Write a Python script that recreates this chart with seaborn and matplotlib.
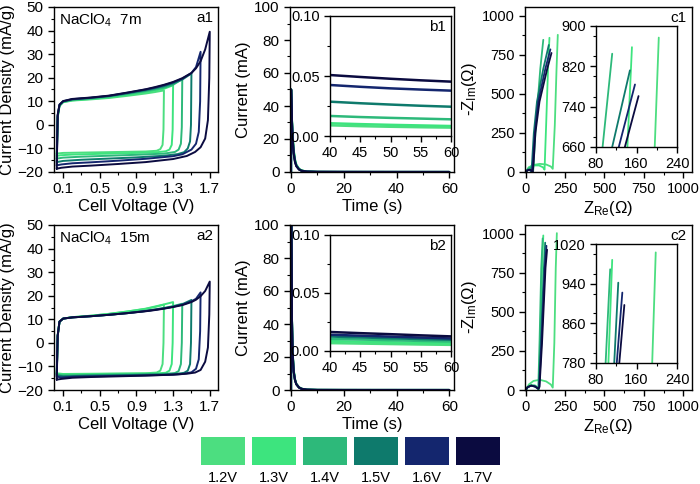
import matplotlib
matplotlib.use("Agg")
import numpy as np
import pandas as pd
import matplotlib.pyplot as plt
from matplotlib.ticker import MultipleLocator, FixedLocator, FormatStrFormatter
import seaborn as sns

# ------------------------------------------------------------------
# data
# ------------------------------------------------------------------
VOLTS = ["1.2V", "1.3V", "1.4V", "1.5V", "1.6V", "1.7V"]
COLORS = ["#4cde80", "#3de47e", "#2db97a", "#0e7a6c", "#14266e", "#0b0b40"]

# CV: anodic sweep shares one voltage grid, each curve stops at its vertex
UP_V = [0.03, 0.04, 0.06, 0.1, 0.2, 0.4, 0.6, 0.8, 1.0, 1.1, 1.2, 1.3, 1.4,
        1.5, 1.55, 1.6, 1.65, 1.7]

CV7_UP = {
    "1.2V": [-12.3, 3.0, 8.0, 9.6, 10.3, 10.8, 11.4, 12.3, 13.3, 13.9, 14.6],
    "1.3V": [-13.2, 3.2, 8.1, 9.7, 10.4, 11.0, 11.7, 12.7, 13.8, 14.5, 15.3, 16.8],
    "1.4V": [-14.3, 3.5, 8.2, 9.8, 10.6, 11.2, 12.0, 13.1, 14.3, 15.0, 15.8, 17.0, 19.4],
    "1.5V": [-15.8, 3.8, 8.4, 9.9, 10.8, 11.4, 12.2, 13.4, 14.7, 15.5, 16.4, 17.6, 19.2, 21.8],
    "1.6V": [-17.2, 4.0, 8.5, 10.0, 10.9, 11.5, 12.3, 13.6, 15.0, 15.8, 16.8, 18.0, 19.6,
             22.0, 24.5, 31.0],
    "1.7V": [-18.6, 4.2, 8.6, 10.1, 11.0, 11.6, 12.4, 13.7, 15.1, 16.0, 17.0, 18.2, 19.8,
             22.0, 24.0, 27.0, 32.0, 39.5],
}
CV7_LOW_V = {
    "1.2V": [1.2, 1.195, 1.185, 1.16, 1.12, 1.0, 0.7, 0.4, 0.1, 0.05, 0.03],
    "1.3V": [1.3, 1.295, 1.285, 1.26, 1.22, 1.1, 0.8, 0.5, 0.2, 0.07, 0.03],
    "1.4V": [1.4, 1.395, 1.385, 1.36, 1.32, 1.2, 0.9, 0.6, 0.3, 0.1, 0.03],
    "1.5V": [1.5, 1.495, 1.485, 1.46, 1.42, 1.35, 1.2, 0.9, 0.6, 0.3, 0.1, 0.03],
    "1.6V": [1.6, 1.595, 1.58, 1.55, 1.5, 1.4, 1.3, 1.0, 0.7, 0.4, 0.2, 0.08, 0.03],
    "1.7V": [1.7, 1.695, 1.68, 1.65, 1.6, 1.54, 1.45, 1.3, 1.0, 0.7, 0.4, 0.2, 0.08, 0.03],
}
CV7_LOW_I = {
    "1.2V": [14.6, -2.0, -8.5, -10.3, -11.0, -11.3, -11.5, -11.7, -11.9, -12.1, -12.3],
    "1.3V": [16.8, -2.0, -8.5, -10.5, -11.2, -11.7, -12.0, -12.3, -12.6, -12.9, -13.2],
    "1.4V": [19.4, -1.0, -8.0, -10.5, -11.5, -12.2, -12.7, -13.1, -13.5, -13.9, -14.3],
    "1.5V": [21.8, 0.0, -7.0, -10.0, -11.6, -12.4, -13.1, -13.8, -14.3, -14.8, -15.3, -15.8],
    "1.6V": [31.0, 10.0, -3.0, -8.0, -10.5, -12.5, -13.3, -14.4, -15.2, -15.9, -16.3,
             -16.8, -17.2],
    "1.7V": [39.5, 20.0, 2.0, -5.8, -9.5, -11.5, -13.2, -14.5, -15.8, -16.6, -17.3,
             -17.7, -18.2, -18.6],
}

CV15_UP = {
    "1.2V": [-13.0, 3.0, 9.0, 10.3, 10.9, 11.5, 12.3, 13.3, 14.4, 15.2, 16.2],
    "1.3V": [-13.2, 3.0, 9.0, 10.3, 10.9, 11.5, 12.3, 13.3, 14.5, 15.4, 16.3, 17.3],
    "1.4V": [-13.5, 3.0, 9.0, 10.3, 10.8, 11.3, 11.9, 12.7, 13.6, 14.2, 14.8, 15.6, 16.6],
    "1.5V": [-13.8, 3.0, 9.0, 10.3, 10.8, 11.3, 11.9, 12.6, 13.5, 14.1, 14.7, 15.4, 16.4, 18.2],
    "1.6V": [-14.3, 3.0, 9.0, 10.3, 10.8, 11.3, 11.9, 12.6, 13.5, 14.0, 14.6, 15.3, 16.2,
             17.6, 18.7, 21.4],
    "1.7V": [-15.6, 3.0, 9.0, 10.3, 10.8, 11.3, 11.9, 12.6, 13.4, 13.9, 14.5, 15.2, 16.0,
             17.3, 18.3, 19.8, 22.0, 26.0],
}
CV15_LOW_V = CV7_LOW_V
CV15_LOW_I = {
    "1.2V": [16.2, 0.0, -9.0, -11.8, -12.6, -12.9, -13.0, -13.1, -13.2, -13.0, -13.0],
    "1.3V": [17.3, 0.0, -9.0, -11.8, -12.7, -13.0, -13.1, -13.2, -13.3, -13.3, -13.2],
    "1.4V": [16.6, 0.0, -9.0, -12.0, -12.8, -13.2, -13.4, -13.5, -13.7, -13.8, -13.5],
    "1.5V": [18.2, 0.0, -9.0, -11.8, -12.7, -13.1, -13.4, -13.6, -13.8, -14.0, -14.2, -13.8],
    "1.6V": [21.4, 5.0, -7.0, -11.0, -12.5, -13.2, -13.5, -13.8, -14.0, -14.2, -14.4,
             -14.7, -14.3],
    "1.7V": [26.0, 12.0, -2.0, -8.0, -11.5, -12.6, -13.1, -13.5, -13.9, -14.2, -14.5,
             -14.8, -15.3, -15.6],
}

# chronoamperometry (mA)
T_CA = [0, 0.02, 0.3, 0.6, 1.0, 1.5, 2.0, 3.0, 4.0, 6.0, 10, 20, 30, 40, 45, 50, 55, 60]
CA7 = {
    "1.2V": [0, 50, 33.5, 22.5, 13.5, 7.6, 4.5, 2.0, 0.95, 0.25, 0.05, 0.018, 0.012,
             0.0089, 0.0082, 0.0077, 0.0073, 0.0070],
    "1.3V": [0, 50, 33, 22, 13, 7.3, 4.3, 1.9, 0.9, 0.25, 0.05, 0.02, 0.014,
             0.0106, 0.0099, 0.0093, 0.0088, 0.0083],
    "1.4V": [0, 50, 33, 21.5, 12.5, 7.0, 4.1, 1.8, 0.85, 0.25, 0.06, 0.03, 0.021,
             0.0167, 0.0158, 0.0151, 0.0145, 0.0139],
    "1.5V": [0, 50, 32.5, 21, 12, 6.6, 3.9, 1.7, 0.8, 0.25, 0.08, 0.045, 0.035,
             0.0286, 0.0273, 0.0262, 0.0252, 0.0244],
    "1.6V": [0, 50, 32, 20.5, 11.5, 6.3, 3.7, 1.6, 0.75, 0.25, 0.1, 0.065, 0.05,
             0.0425, 0.0410, 0.0397, 0.0387, 0.0378],
    "1.7V": [0, 50, 32, 20, 11, 6.0, 3.5, 1.5, 0.7, 0.25, 0.12, 0.075, 0.06,
             0.0508, 0.0492, 0.0477, 0.0464, 0.0453],
}
CA15 = {
    "1.2V": [0, 120, 46, 23, 12, 6.5, 3.8, 1.7, 0.8, 0.2, 0.04, 0.012, 0.009,
             0.0068, 0.0064, 0.0060, 0.0056, 0.0053],
    "1.3V": [0, 120, 46, 23, 12, 6.4, 3.7, 1.6, 0.75, 0.2, 0.04, 0.014, 0.011,
             0.0085, 0.0080, 0.0075, 0.0070, 0.0066],
    "1.4V": [0, 120, 45, 22.5, 11.5, 6.2, 3.6, 1.6, 0.72, 0.2, 0.045, 0.017, 0.013,
             0.0105, 0.0099, 0.0093, 0.0087, 0.0082],
    "1.5V": [0, 120, 45, 22, 11, 6.1, 3.5, 1.5, 0.7, 0.2, 0.05, 0.02, 0.015,
             0.0125, 0.0117, 0.0110, 0.0103, 0.0097],
    "1.6V": [0, 120, 45, 22, 11, 6.0, 3.5, 1.5, 0.7, 0.2, 0.05, 0.025, 0.017,
             0.0140, 0.0132, 0.0124, 0.0116, 0.0108],
    "1.7V": [0, 120, 45, 22, 11, 6.0, 3.5, 1.5, 0.7, 0.2, 0.06, 0.03, 0.02,
             0.0164, 0.0154, 0.0145, 0.0135, 0.0126],
}

# Nyquist (ohm)
EIS7_RE = {
    "1.2V": [2, 20, 50, 90, 130, 160, 172, 185, 196, 204],
    "1.3V": [2, 20, 50, 85, 110, 120, 130, 142, 151],
    "1.4V": [2, 15, 30, 42, 48, 65, 93, 112],
    "1.5V": [0, 10, 20, 30, 35, 40, 52, 72, 112, 147],
    "1.6V": [0, 12, 25, 35, 40, 45, 58, 80, 125, 157],
    "1.7V": [0, 15, 30, 40, 45, 50, 62, 88, 137, 164],
}
EIS7_IM = {
    "1.2V": [0, 30, 45, 52, 48, 35, 20, 300, 660, 877],
    "1.3V": [0, 28, 42, 42, 30, 15, 300, 660, 858],
    "1.4V": [0, 20, 28, 20, 8, 300, 660, 845],
    "1.5V": [0, 12, 15, 10, 0, 50, 250, 450, 660, 812],
    "1.6V": [0, 12, 15, 8, 0, 50, 250, 450, 660, 784],
    "1.7V": [0, 12, 15, 8, 0, 50, 250, 450, 660, 761],
}
EIS15_RE = {
    "1.2V": [2, 20, 50, 90, 130, 160, 172, 182, 191, 198],
    "1.3V": [2, 15, 35, 60, 78, 85, 92, 104.5, 112],
    "1.4V": [2, 15, 35, 60, 75, 80, 88, 99, 108],
    "1.5V": [0, 12, 35, 60, 78, 84, 96, 116, 124],
    "1.6V": [0, 12, 35, 60, 80, 86, 100, 121, 132],
    "1.7V": [0, 12, 35, 60, 82, 88, 104, 126, 136],
}
EIS15_IM = {
    "1.2V": [0, 35, 58, 65, 55, 35, 15, 300, 780, 1003],
    "1.3V": [0, 20, 30, 28, 15, 5, 300, 780, 988],
    "1.4V": [0, 20, 30, 28, 15, 5, 300, 780, 969],
    "1.5V": [0, 18, 28, 22, 8, 20, 300, 780, 942],
    "1.6V": [0, 18, 28, 22, 8, 20, 300, 780, 922],
    "1.7V": [0, 18, 28, 22, 8, 20, 300, 780, 897],
}

# inset tick positions of the Nyquist plots
EIS7_INSET_YTICKS = [660, 740, 820, 900]
EIS15_INSET_YTICKS = [780, 860, 940, 1020]

# ------------------------------------------------------------------
# style
# ------------------------------------------------------------------
sns.set_theme(style="ticks")
plt.rcParams.update({
    "font.family": ["Liberation Sans", "DejaVu Sans"],
    "mathtext.fontset": "custom",
    "mathtext.rm": "Liberation Sans",
    "mathtext.it": "Liberation Sans:italic",
    "text.color": "black",
    "axes.labelcolor": "black",
    "axes.edgecolor": "black",
    "axes.linewidth": 1.0,
    "xtick.color": "black",
    "ytick.color": "black",
    "xtick.direction": "out",
    "ytick.direction": "out",
    "xtick.major.size": 4,
    "ytick.major.size": 4,
    "xtick.minor.size": 2.5,
    "ytick.minor.size": 2.5,
    "xtick.major.width": 1.0,
    "ytick.major.width": 1.0,
    "xtick.minor.width": 0.8,
    "ytick.minor.width": 0.8,
})
PAL = dict(zip(VOLTS, COLORS))

W, H = 700, 484
fig = plt.figure(figsize=(W / 100, H / 100), dpi=100)


def add_ax(l, t, w, h):
    # pixel box (left, top, width, height) -> figure fraction
    return fig.add_axes([l / W, 1 - (t + h) / H, w / W, h / H])


def cv_frame(up, low_v, low_i):
    rows = []
    for v in VOLTS:
        xs = UP_V[:len(up[v])] + low_v[v]
        ys = up[v] + low_i[v]
        rows.append(pd.DataFrame({"V": v, "x": xs, "y": ys}))
    return pd.concat(rows, ignore_index=True)


def xy_frame(xd, yd):
    rows = []
    for v in VOLTS:
        xs = xd if isinstance(xd, list) else xd[v]
        rows.append(pd.DataFrame({"V": v, "x": xs, "y": yd[v]}))
    return pd.concat(rows, ignore_index=True)


def draw(ax, df, lw):
    sns.lineplot(data=df, x="x", y="y", hue="V", hue_order=VOLTS, palette=PAL,
                 sort=False, estimator=None, legend=False, lw=lw, ax=ax)
    ax.set_xlabel("")
    ax.set_ylabel("")


def style(ax, size):
    ax.tick_params(labelsize=size, top=False, right=False)
    ax.tick_params(which="minor", top=False, right=False)


# ------------------------------------------------------------------
# panels
# ------------------------------------------------------------------
for row, (tag, conc, up, lowv, lowi, ca, ere, eim, eyt) in enumerate([
        ("1", "7m", CV7_UP, CV7_LOW_V, CV7_LOW_I, CA7, EIS7_RE, EIS7_IM, EIS7_INSET_YTICKS),
        ("2", "15m", CV15_UP, CV15_LOW_V, CV15_LOW_I, CA15, EIS15_RE, EIS15_IM,
         EIS15_INSET_YTICKS)]):
    top = 7 if row == 0 else 225

    # ---- CV
    ax = add_ax(54, top, 164, 165)
    draw(ax, cv_frame(up, lowv, lowi), 1.4)
    ax.set_xlim(0, 1.79)
    ax.set_ylim(-20, 50)
    ax.xaxis.set_major_locator(FixedLocator([0.1, 0.5, 0.9, 1.3, 1.7]))
    ax.xaxis.set_minor_locator(FixedLocator([0.3, 0.7, 1.1, 1.5]))
    ax.xaxis.set_major_formatter(FormatStrFormatter("%.1f"))
    ax.yaxis.set_major_locator(MultipleLocator(10))
    ax.yaxis.set_minor_locator(MultipleLocator(5))
    style(ax, 11)
    ax.set_xlabel("Cell Voltage (V)", fontsize=12, labelpad=2)
    ax.set_ylabel("Current Density (mA/g)", fontsize=12, labelpad=2)
    ax.text(0.03, 0.975, "NaClO$_4$  " + conc, transform=ax.transAxes,
            ha="left", va="top", fontsize=11)
    ax.text(0.97, 0.975, "a" + tag, transform=ax.transAxes,
            ha="right", va="top", fontsize=11)

    # ---- chronoamperometry
    ax = add_ax(290, top, 164, 165)
    df_ca = xy_frame(T_CA, ca)
    draw(ax, df_ca, 1.5)
    ax.set_xlim(-0.4, 61.8)
    ax.set_ylim(0, 100)
    ax.xaxis.set_major_locator(MultipleLocator(20))
    ax.xaxis.set_minor_locator(MultipleLocator(10))
    ax.yaxis.set_major_locator(MultipleLocator(20))
    ax.yaxis.set_minor_locator(MultipleLocator(10))
    style(ax, 11)
    ax.set_xlabel("Time (s)", fontsize=12, labelpad=2)
    ax.set_ylabel("Current (mA)", fontsize=12, labelpad=2)

    ins = add_ax(330, top + 9 if row == 0 else top + 10, 121, 120 if row == 0 else 116)
    draw(ins, df_ca, 1.8)
    ins.set_xlim(40, 60)
    ins.set_ylim(0, 0.1)
    ins.xaxis.set_major_locator(MultipleLocator(5))
    ins.xaxis.set_minor_locator(MultipleLocator(2.5))
    ins.yaxis.set_major_locator(MultipleLocator(0.05))
    ins.yaxis.set_minor_locator(MultipleLocator(0.025))
    ins.yaxis.set_major_formatter(FormatStrFormatter("%.2f"))
    style(ins, 10.5)
    ins.text(0.96, 0.965, "b" + tag, transform=ins.transAxes,
             ha="right", va="top", fontsize=11)

    # ---- Nyquist
    ax = add_ax(525, top, 167, 165)
    df_eis = xy_frame(ere, eim)
    draw(ax, df_eis, 1.3)
    ax.set_xlim(-4, 1055)
    ax.set_ylim(0, 1055)
    ax.xaxis.set_major_locator(MultipleLocator(250))
    ax.xaxis.set_minor_locator(MultipleLocator(125))
    ax.yaxis.set_major_locator(MultipleLocator(250))
    ax.yaxis.set_minor_locator(MultipleLocator(125))
    style(ax, 10.5)
    ax.set_xlabel(r"Z$_\mathregular{Re}$(Ω)", fontsize=12, labelpad=2)
    ax.set_ylabel(r"-Z$_\mathregular{Im}$(Ω)", fontsize=12, labelpad=2)
    ax.text(0.97, 0.975, "c" + tag, transform=ax.transAxes,
            ha="right", va="top", fontsize=11)

    ins = add_ax(596, top + 19, 81, 121 if row == 0 else 119)
    draw(ins, df_eis, 1.3)
    ins.set_xlim(80, 240)
    ins.set_ylim(eyt[0], eyt[-1])
    ins.xaxis.set_major_locator(FixedLocator([80, 160, 240]))
    ins.xaxis.set_minor_locator(FixedLocator([120, 200]))
    ins.yaxis.set_major_locator(FixedLocator(eyt))
    ins.yaxis.set_minor_locator(MultipleLocator(40))
    style(ins, 10.5)

# ------------------------------------------------------------------
# colour key
# ------------------------------------------------------------------
axl = add_ax(197.5, 437, 306, 28)
sns.barplot(x=VOLTS, y=[1] * len(VOLTS), hue=VOLTS, palette=COLORS, legend=False,
            width=44 / 51, saturation=1, linewidth=0, ax=axl)
axl.set_xlim(-0.5, len(VOLTS) - 0.5)
axl.set_ylim(0, 1)
for s in axl.spines.values():
    s.set_visible(False)
axl.set_yticks([])
axl.set_xlabel("")
axl.set_ylabel("")
axl.tick_params(axis="x", length=0, pad=4, labelsize=10.5)

fig.savefig("out.png", dpi=100)
